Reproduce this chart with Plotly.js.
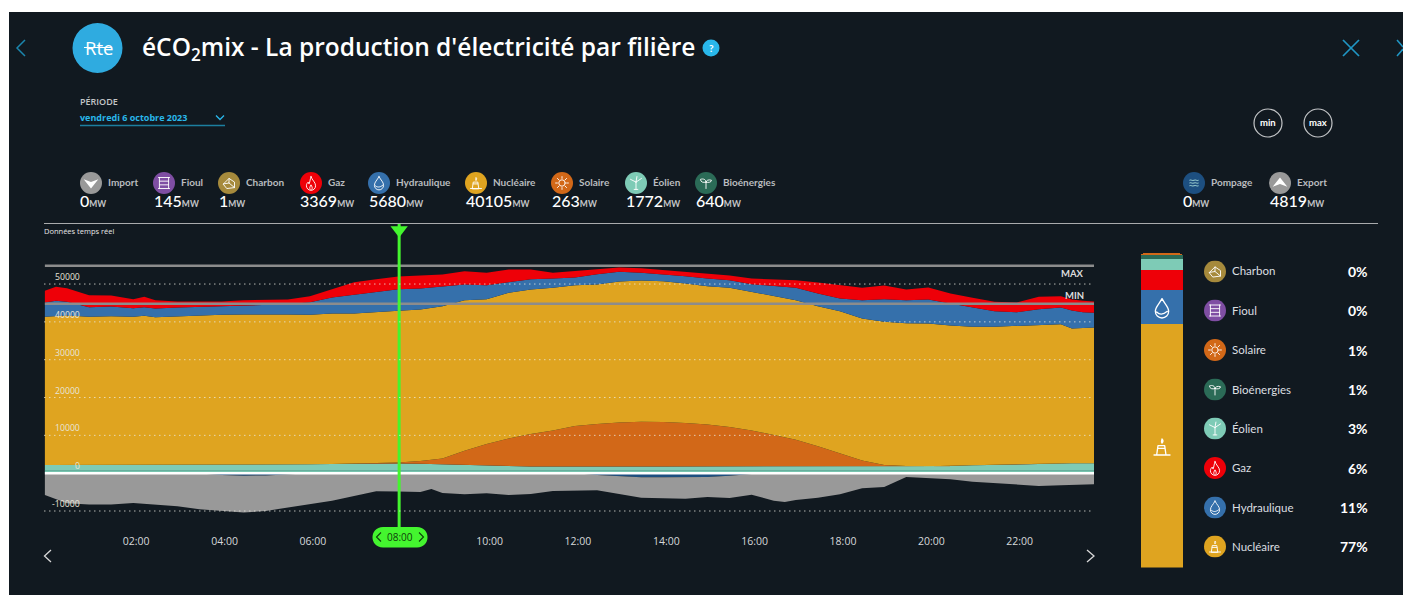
<!DOCTYPE html>
<html lang="fr">
<head>
<meta charset="utf-8">
<title>éCO2mix</title>
<script src="https://cdn.plot.ly/plotly-3.0.1.min.js"></script>
<style>html,body{margin:0;padding:0;background:#fff;overflow:hidden}#chart{width:1403px;height:595px}</style>
</head>
<body>
<div id="chart"></div>
<script>
// ---------- data (MW) ----------
const hours = [0,0.25,0.5,1,1.5,2,2.25,2.5,3,3.5,4,4.5,5,5.5,6,6.5,7,7.5,8,8.5,9,9.5,10,10.5,11,11.5,12,12.5,13,13.5,14,14.5,15,15.5,16,16.5,17,17.5,18,18.5,19,19.5,20,20.5,21,21.5,22,22.5,23,23.25,23.5,23.75];
const bioenergies = [640,640,640,640,640,640,640,640,640,640,640,640,640,640,640,640,640,640,640,640,640,640,640,640,640,640,640,640,640,640,640,640,640,640,640,640,640,640,640,640,640,640,640,640,640,640,640,640,640,640,640,640];
const fioul = [146,146,146,146,146,146,146,146,146,146,146,146,146,146,146,146,146,146,146,146,146,146,146,146,146,146,146,146,146,146,146,146,146,146,146,146,146,146,146,146,146,146,146,146,146,146,146,146,146,146,146,146];
const eolien = [1400,1400,1400,1400,1400,1400,1400,1400,1400,1400,1420,1450,1480,1500,1550,1620,1700,1740,1772,1700,1550,1350,1150,1000,950,950,1000,1000,1000,1000,1000,1000,1000,1000,1000,1000,1000,1000,950,950,950,970,1000,1100,1300,1450,1600,1700,1800,1820,1840,1850];
const solaire = [0,0,0,0,0,0,0,0,0,0,0,0,0,0,0,0,0,60,263,714,1560,3800,5800,7360,8600,9560,10660,11200,11600,11780,11760,11500,11060,10400,9500,8300,7060,5360,3500,1600,460,120,30,0,0,0,0,0,0,0,0,0];
const nucleaire = [39149,39414,39504,39149,39324,39149,39414,39059,39324,39589,39654,39714,39774,39664,39524,39809,39729,40069,40105,40073,40254,39801,38264,38529,38214,37699,37254,36889,37279,37364,37209,36854,36589,36809,36654,36704,36891,37004,37594,37559,37819,37784,37759,37164,36614,36464,36484,36739,36814,35649,35719,35884];
const hydraulique = [3785,3961,3609,2553,2553,2288,2288,2288,2288,2200,2200,2200,2288,2729,3345,4225,4929,5193,5680,5545,5105,4137,3697,2905,2729,2465,2024,2729,2553,2024,1848,1936,2024,2024,2024,2641,3257,3345,3345,4841,5985,6073,6337,5809,5105,4137,3697,4137,4401,4753,4225,3873];
const gaz = [3081,3697,3609,3169,2905,2377,2729,2200,1584,1408,1320,1584,1408,1232,1584,2200,3345,3433,3369,3433,3257,3521,3257,3257,2553,1496,1760,1232,1144,1232,1056,1144,1320,1232,1496,1848,2024,2905,3521,3257,3609,2817,3169,2641,2553,2465,2553,3257,2993,2905,2993,2993];

const hoursNeg = [0,0.25,0.5,1,1.5,2,2.5,3,3.5,4,4.5,5,5.5,6,6.5,7,7.5,8,8.5,8.75,9,9.5,10,10.5,11,11.5,12,12.5,13,13.5,14,14.5,15,15.5,16,16.5,16.75,17,17.5,18,18.5,19,19.5,20,20.5,21,21.5,22,22.5,23,23.75];
const pompage = [0,0,0,0,0,0,0,0,-100,-500,-650,-600,-200,0,0,0,0,0,0,0,0,0,0,0,0,0,0,-500,-800,-1050,-1100,-1100,-1000,-700,-200,0,0,0,0,0,0,0,0,0,0,0,0,0,0,0,0];
const exportMW = [-5757,-6900,-7960,-8310,-8310,-7870,-8310,-8750,-9440,-9570,-9770,-9380,-8900,-8220,-7260,-6020,-4780,-4819,-4960,-4170,-5230,-5570,-5310,-5760,-5490,-4700,-4700,-4020,-4690,-5420,-5530,-5630,-5280,-5850,-5480,-7260,-7600,-7080,-6470,-5570,-3990,-3640,-1000,-1350,-1610,-2240,-2590,-2850,-3380,-3200,-2930];

const maxValue = 54850, minValue = 44800;
const yGrid = [-10000,0,10000,20000,30000,40000,50000];
const xTickVals = [2,4,6,10,12,14,16,18,20,22];
const xTickText = ['02:00','04:00','06:00','10:00','12:00','14:00','16:00','18:00','20:00','22:00'];
const currentHour = 8;
const currentLabel = '08:00';

const barNames = ['Nucléaire','Hydraulique','Gaz','Éolien','Bioénergies','Solaire','Fioul','Charbon'];
const barValues = [40105,5680,3369,1772,640,263,145,1];
const barColors = ['#dfa420','#3570ab','#ee0008','#7ecbb6','#2b6b57','#d26818','#7f4ea3','#a68a3c'];

const topRow = [['Import',91,80,'0'],['Fioul',164,154,'145'],['Charbon',229,219,'1'],['Gaz',311,300,'3369'],['Hydraulique',379,369,'5680'],['Nucléaire',476,466,'40105'],['Solaire',562,552,'263'],['Éolien',636,626,'1772'],['Bioénergies',706,696,'640'],['Pompage',1194,1183,'0'],['Export',1280,1270,'4819']];
const sideRow = [['Charbon','0%',271.5],['Fioul','0%',310.5],['Solaire','1%',350],['Bioénergies','1%',389.5],['Éolien','3%',428.5],['Gaz','6%',468],['Hydraulique','11%',507.5],['Nucléaire','77%',546.5]];

// ---------- helpers ----------
const W = 1403, H = 595;
const px = x => x / W, py = y => 1 - y / H;
const C = {bg:'#111920',gold:'#dfa420',blue:'#3570ab',red:'#ee0008',teal:'#7ecbb6',solar:'#d26818',grey:'#999999',pump:'#1d4f80',green:'#44f52f',cyan:'#29b7ea',txt:'#b9bcbf'};
const Y0 = -14490, Y1 = 65870;
const S = 'fill="none" stroke="#fff" stroke-width="1" stroke-linecap="round" stroke-linejoin="round"';
const glyph = {
  'Import':['#999999','<path d="M4 8l8 3 8-3-8 10z" fill="#fff"/>'],
  'Export':['#999999','<path d="M4 16l8-3 8 3-8-10z" fill="#fff"/>'],
  'Fioul':['#7f4ea3','<path d="M6 6h12M6 18h12M7 6v12M17 6v12M7 10h10M7 14h10" '+S+'/>'],
  'Charbon':['#a68a3c','<path d="M6 13l6-6 6 4 0 6-8 1zM12 7v5l-6 1M12 12l6 5" '+S+'/>'],
  'Gaz':['#ee0008','<path d="M12 5c1 4 5 6 5 10a5 5 0 0 1-10 0c0-2 1-3 2-4 0 2 1 2 1 2 1-3 1-5 2-8zM11 19c-1-2 0-3 1-5 1 2 2 3 1 5" '+S+'/>'],
  'Hydraulique':['#3570ab','<path d="M12 5c2 4 5 6 5 9.500a5 5 0 0 1-10 0C7 11 10 9 12 5zM8 15c2 2 5 2 8-.5" '+S+'/>'],
  'Nucléaire':['#dfa420','<path d="M8 18l1-7h5l1 7zM6 18h12M9 13h5M12 9c-1-1 0-2 0-3 1 1 1 2 0 3" '+S+'/>'],
  'Solaire':['#d26818','<circle cx="12" cy="12" r="3.500" '+S+'/><path d="M12 5v2M12 17v2M5 12h2M17 12h2M7 7l1.500 1.500M15.500 15.500L17 17M17 7l-1.500 1.500M8.500 15.500L7 17" '+S+'/>'],
  'Éolien':['#7ecbb6','<path d="M12 11v8M10 19h4M12 11L6 8M12 11l6-4M12 11l1 -6" '+S+'/>'],
  'Bioénergies':['#2b6b57','<path d="M12 18v-7M12 11c0-3-3-4-6-3 0 3 3 4 6 3zM12 11c0-2 3-3 6-2 0 2-3 3-6 2" '+S+'/>'],
  'Pompage':['#1d4f80','<path d="M7 9c2-1 3 1 5 0s3 1 5 0M7 12c2-1 3 1 5 0s3 1 5 0M7 15c2-1 3 1 5 0s3 1 5 0" fill="none" stroke="#cfe" stroke-width=".8"/>']
};
const icon = (name, cx, cy, r) => {
  const g = glyph[name];
  const svg = '<svg xmlns="http://www.w3.org/2000/svg" width="96" height="96" viewBox="0 0 24 24"><circle cx="12" cy="12" r="12" fill="'+g[0]+'"/>'+g[1]+'</svg>';
  return {source:'data:image/svg+xml;utf8,'+encodeURIComponent(svg),xref:'paper',yref:'paper',x:px(cx-r),y:py(cy-r),sizex:2*r/W,sizey:2*r/H,xanchor:'left',yanchor:'top',sizing:'stretch',layer:'above'};
};
const label = (text,x,y,size,color,opts) => Object.assign({text:text,xref:'paper',yref:'paper',x:px(x),y:py(y),xanchor:'left',yanchor:'middle',showarrow:false,borderpad:0,font:{family:'Lato, sans-serif',size:size,color:color}},opts||{});
const pline = (d,color,w) => ({type:'path',xref:'paper',yref:'paper',path:d,line:{color:color,width:w},layer:'above'});
const pathOf = pts => 'M'+pts.map(p=>px(p[0])+','+py(p[1])).join('L');
const circleShape = (cx,cy,r,fill,stroke) => ({type:'circle',xref:'paper',yref:'paper',x0:px(cx-r),x1:px(cx+r),y0:py(cy+r),y1:py(cy-r),fillcolor:fill,line:{color:stroke||fill,width:stroke?1.2:0},layer:'above'});

// ---------- traces ----------
const area = (name,y,color,line) => ({type:'scatter',mode:'lines',name:name,x:hours,y:y,stackgroup:'prod',fillcolor:color,line:{width:line?1:0,color:line||color,shape:'linear'},hoverinfo:'skip'});
const neg = (name,y,color) => ({type:'scatter',mode:'lines',name:name,x:hoursNeg,y:y,stackgroup:'neg',fillcolor:color,line:{width:0,color:color},hoverinfo:'skip'});
const hline = (name,v,color,w) => ({type:'scatter',mode:'lines',name:name,x:[hours[0],hours[hours.length-1]],y:[v,v],line:{color:color,width:w},hoverinfo:'skip'});
const traces = [
  area('Bioénergies',bioenergies,C.teal,'#63b19c'),
  area('Fioul',fioul,C.teal),
  area('Éolien',eolien,C.teal),
  area('Solaire',solaire,C.solar),
  area('Nucléaire',nucleaire,C.gold),
  area('Hydraulique',hydraulique,C.blue),
  area('Gaz',gaz,C.red),
  neg('Pompage',pompage,C.pump),
  neg('Export',exportMW,C.grey),
  hline('Zéro',0,'#ffffff',2.6),
  hline('Max',maxValue,'#8c8c8c',2.6),
  hline('Min',minValue,'#8c8c8c',2.6),
  {type:'scatter',mode:'lines',name:'Heure',x:[currentHour+0.02,currentHour+0.02],y:[Y0,Y1],line:{color:C.green,width:3},hoverinfo:'skip'},
  {type:'scatter',mode:'markers',name:'Curseur',x:[currentHour+0.02],y:[64300],marker:{symbol:'triangle-down',size:15,color:C.green},cliponaxis:false,hoverinfo:'skip'}
];
barNames.forEach((n,i)=>traces.push({type:'bar',name:n,x:['mix'],y:[barValues[i]],xaxis:'x2',yaxis:'y2',marker:{color:barColors[i],line:{width:0}},hoverinfo:'skip'}));

// ---------- annotations ----------
const ann = [];
ann.push(label('Rte',83.5,47.5,18,'#ffffff',{font:{family:'Open Sans, sans-serif',size:18.5,color:'#fff'}}));
ann.push(label('éCO<sub>2</sub>mix - La production d\'électricité par filière',141,48,24.5,'#ffffff',{font:{family:'Open Sans, sans-serif',size:24.5,color:'#fff',weight:600}}));
ann.push(label('<b>?</b>',711,48,10,'#ffffff',{xanchor:'center'}));
ann.push(label('PÉRIODE',79,101.5,9.5,'#c4c6c8',{font:{family:'Open Sans, sans-serif',size:9,color:'#c4c6c8',weight:600}}));
ann.push(label('vendredi 6 octobre 2023',79,118,9,C.cyan,{font:{family:'Open Sans, sans-serif',size:9,color:C.cyan,weight:700}}));
ann.push(label('<b>min</b>',1268,122.5,9.5,'#fff',{xanchor:'center'}));
ann.push(label('<b>max</b>',1318,122.5,9.5,'#fff',{xanchor:'center'}));
ann.push(label('Données temps réel',43,231.5,7.5,'#e6e6e6',{font:{family:'Open Sans, sans-serif',size:7.5,color:'#e6e6e6'}}));
ann.push(label('<b>MAX</b>',1085,274,9.5,'#dddddd',{xanchor:'right'}));
ann.push(label('<b>MIN</b>',1085,295,9.5,'#dddddd',{xanchor:'right'}));
yGrid.forEach(v=>ann.push({text:String(v),xref:'paper',yref:'y',x:px(82),y:v,xanchor:'right',yanchor:'middle',yshift:7,showarrow:false,font:{family:'Open Sans, sans-serif',size:8.7,color:'#e8e4d8'}}));
topRow.forEach(r=>{
  ann.push(label('<b>'+r[0]+'</b>',r[1]+16,181.5,10,C.txt));
  ann.push(label(r[3]+'<span style="font-size:8.5px;font-weight:700;color:#c4c6c8">MW</span>',r[2]-1,200,16,'#ffffff',{font:{family:'Lato, sans-serif',size:16,color:'#fff',weight:500}}));
});
sideRow.forEach(r=>{
  ann.push(label(r[0],1231,r[2]-0.5,11.5,'#dcdfe1'));
  ann.push(label('<b>'+r[1]+'</b>',1369,r[2],14,'#ffffff',{xanchor:'right'}));
});
ann.push(label(currentLabel,400,537,10,'#0e3d0a',{xanchor:'center',font:{family:'Open Sans, sans-serif',size:10,color:'#0e3d0a'}}));

// ---------- decoration ----------
const shapes = [
  {type:'rect',xref:'paper',yref:'paper',x0:px(9),x1:1,y0:0,y1:py(12),fillcolor:C.bg,line:{width:0},layer:'below'},
  pline(pathOf([[44,223.5],[1378,223.5]]),'#a9abad',1),
  pline(pathOf([[80,125.5],[225,125.5]]),'#1c7f9f',1.6),
  pline(pathOf([[216,115.5],[220,119.5],[224,115.5]]),C.cyan,1.3),
  pline(pathOf([[25,40],[17,48],[25,56]]),'#1b86ad',1.5),
  pline(pathOf([[1343,40],[1359,56]]),'#2096c4',1.7),
  pline(pathOf([[1359,40],[1343,56]]),'#2096c4',1.7),
  pline(pathOf([[1397,40],[1403,47]]),'#2096c4',1.5),
  pline(pathOf([[1403,49],[1397,56]]),'#2096c4',1.5),
  pline(pathOf([[51,550],[44.500,556],[51,562]]),'#d8d8d8',1.3),
  pline(pathOf([[1087,550],[1094,556],[1087,562]]),'#d8d8d8',1.3),
  circleShape(97.5,48,25,'#2fabe0'),
  pline(pathOf([[84,47.5],[112,47.5]]),'#ffffff',1),
  circleShape(711,48,8.5,C.cyan),
  circleShape(1268,123,14,'rgba(0,0,0,0)','#c4c6c8'),
  circleShape(1318,123,14,'rgba(0,0,0,0)','#c4c6c8'),
  // pill behind the current hour
  {type:'path',xref:'paper',yref:'paper',layer:'above',fillcolor:C.green,line:{width:0},
   path:'M'+px(383)+','+py(527)+'L'+px(417)+','+py(527)+'C'+px(431)+','+py(527)+' '+px(431)+','+py(547.5)+' '+px(417)+','+py(547.5)+'L'+px(383)+','+py(547.5)+'C'+px(369)+','+py(547.5)+' '+px(369)+','+py(527)+' '+px(383)+','+py(527)+'Z'},
  pline(pathOf([[381,532.500],[376.500,537],[381,541.500]]),'#0e3d0a',1.1),
  pline(pathOf([[419,532.500],[423.500,537],[419,541.500]]),'#0e3d0a',1.1)
];
yGrid.forEach(v=>{ if(v!==0) shapes.push({type:'line',xref:'paper',yref:'y',x0:px(44),x1:px(1094),y0:v,y1:v,line:{color:'rgba(235,235,225,0.75)',width:1,dash:'1.5px,3.5px'},layer:'above'}); });

const images = [];
topRow.forEach(r=>images.push(icon(r[0],r[1],183,11)));
sideRow.forEach(r=>images.push(icon(r[0],1215,r[2],11)));
images.push(Object.assign(icon('Hydraulique',1162,308,16),{source:'data:image/svg+xml;utf8,'+encodeURIComponent('<svg xmlns="http://www.w3.org/2000/svg" width="96" height="96" viewBox="0 0 24 24">'+glyph['Hydraulique'][1]+'</svg>')}));
images.push(Object.assign(icon('Nucléaire',1162,447,16),{source:'data:image/svg+xml;utf8,'+encodeURIComponent('<svg xmlns="http://www.w3.org/2000/svg" width="96" height="96" viewBox="0 0 24 24">'+glyph['Nucléaire'][1]+'</svg>')}));

const layout = {
  width:W,height:H,margin:{l:0,r:0,t:0,b:0,pad:0},
  paper_bgcolor:'#ffffff',plot_bgcolor:'rgba(0,0,0,0)',showlegend:false,
  barmode:'stack',barcornerradius:3,bargap:0,
  xaxis:{domain:[px(44),px(1094)],range:[-0.02,23.75],tickmode:'array',tickvals:xTickVals,ticktext:xTickText,showgrid:false,zeroline:false,showline:false,ticks:'',ticklabelstandoff:5,ticklabelshift:3,tickfont:{family:'Open Sans, sans-serif',size:10.5,color:'#d6d8da'},fixedrange:true},
  yaxis:{domain:[py(528),py(224)],range:[Y0,Y1],showgrid:false,zeroline:false,showticklabels:false,ticks:'',fixedrange:true},
  xaxis2:{domain:[px(1140.5),px(1183)],anchor:'y2',visible:false,fixedrange:true},
  yaxis2:{domain:[py(567.5),py(252.5)],anchor:'x2',range:[0,51975],visible:false,fixedrange:true},
  shapes:shapes,annotations:ann,images:images
};
Plotly.newPlot('chart',traces,layout,{displayModeBar:false,staticPlot:true});
</script>
</body>
</html>
